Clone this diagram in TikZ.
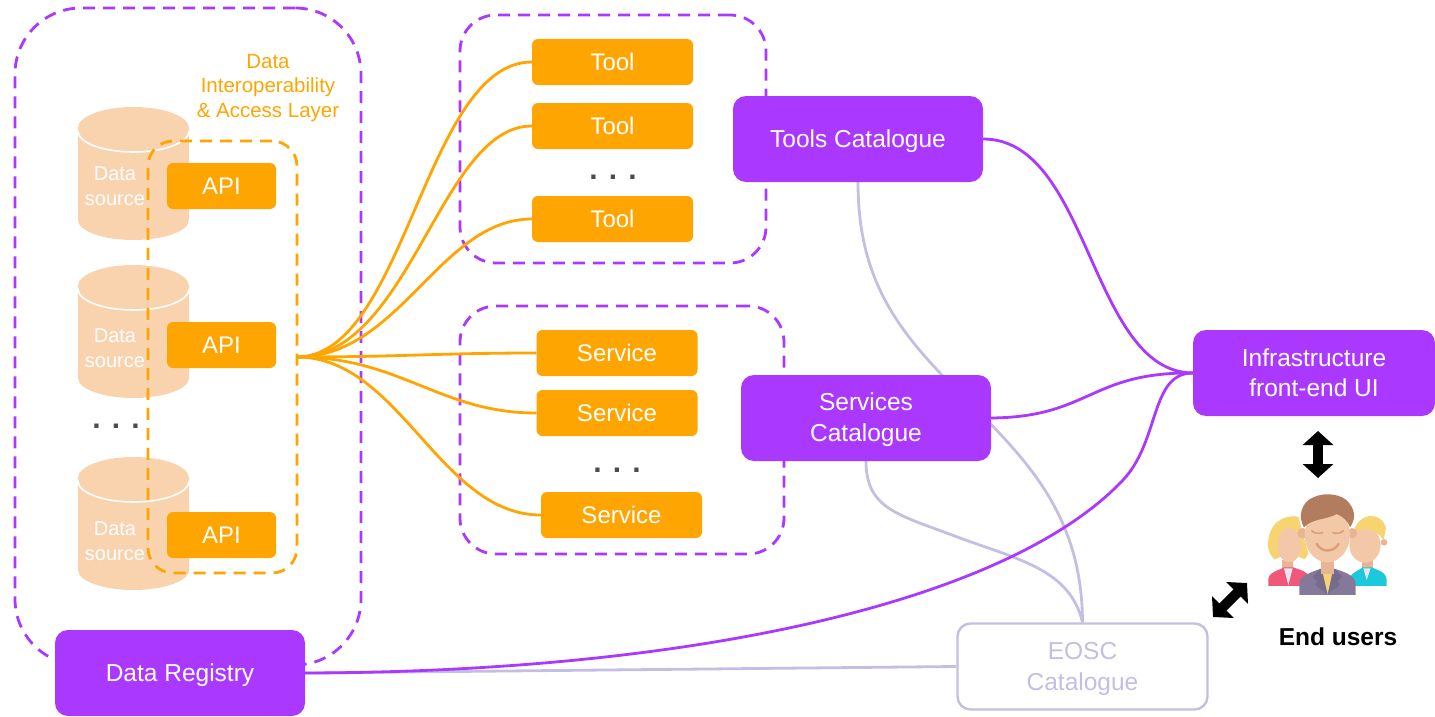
\documentclass[tikz,border=0pt]{standalone}
\usepackage{fontspec}
\setmainfont{Liberation Sans}
\usetikzlibrary{arrows.meta,backgrounds}
\definecolor{orng}{HTML}{FFA502}
\definecolor{prpl}{HTML}{AA38FF}
\definecolor{lilac}{HTML}{C6BEE2}
\definecolor{peach}{HTML}{F9D3AE}
\definecolor{skin}{HTML}{F3C8A8}
\definecolor{skindark}{HTML}{E8B594}
\definecolor{blond}{HTML}{F7D470}
\definecolor{jacketred}{HTML}{F0587A}
\definecolor{jacketblue}{HTML}{1CC8DC}
\definecolor{jacketgray}{HTML}{85799B}
\definecolor{lapelgray}{HTML}{766B8C}
\definecolor{shirt}{HTML}{E8E6F2}
\definecolor{brownhair}{HTML}{B27C5E}
\definecolor{smile}{HTML}{DD9F78}
\tikzset{
  groupbox/.style={draw=prpl,line width=2.8pt,dash pattern=on 12pt off 8pt,rounded corners=36pt,inner sep=0pt},
  orangebox/.style={fill=orng,text=white,rounded corners=6pt,inner sep=0pt,minimum height=46pt,font=\fontsize{24}{30}\selectfont},
  purplebox/.style={fill=prpl,text=white,rounded corners=13pt,inner sep=0pt,minimum width=250pt,minimum height=86pt,align=center,font=\fontsize{24.5}{30.5}\selectfont},
  fanline/.style={draw=orng,line width=2.8pt},
  uiline/.style={draw=prpl,line width=2.8pt},
  eoscline/.style={draw=lilac,line width=2.8pt},
  bothways/.style={{Triangle[width=30pt,length=14pt]}-{Triangle[width=30pt,length=14pt]},line width=10pt,black},
  dotsrow/.style={text=black!70,font=\fontsize{30}{30}\bfseries\selectfont,inner sep=0pt},
  cyltext/.style={text=white,align=center,inner sep=0pt,font=\fontsize{20}{25}\selectfont}
}
\newcommand{\lowerline}{\rule{0pt}{22pt}}
\begin{document}
\begin{tikzpicture}[x=1pt,y=-1pt]
  \useasboundingbox (0,0) rectangle (1435,717);
  % data sources
  \foreach \ytop/\ytxt/\n in {107/186/a,265/348/b,457/541/c}{
    \fill[peach] (78,\ytop+21) arc[x radius=55.5,y radius=21,start angle=180,end angle=360]
      -- (189,\ytop+113) arc[x radius=55.5,y radius=20,start angle=0,end angle=180] -- cycle;
    \draw[white,line width=1.6pt] (78,\ytop+24) arc[x radius=55.5,y radius=21,start angle=180,end angle=0];
    \node[cyltext] (src\n) at (115,\ytxt) {Data\\source};
  }
  \node[dotsrow] (srcdots) at (116,426) {. . .};
  % groups
  \node[groupbox,rounded corners=66pt,minimum width=346pt,minimum height=657pt] (datagroup) at (188,336.5) {};
  \node[groupbox,minimum width=306pt,minimum height=248pt] (toolgroup) at (613,139) {};
  \node[groupbox,minimum width=324pt,minimum height=248pt] (servgroup) at (622,430) {};
  \node[groupbox,draw=orng,rounded corners=25pt,minimum width=149pt,minimum height=432pt] (apigroup) at (222.5,357) {};
  \node[align=center,text=orng,inner sep=0pt,font=\fontsize{20.5}{24.5}\selectfont] (layerlabel) at (268,88)
    {Data\\Interoperability\\\& Access Layer};
  % orange boxes
  \node[orangebox,minimum width=109pt] (apia) at (221.5,186) {API};
  \node[orangebox,minimum width=109pt] (apib) at (221.5,345) {API};
  \node[orangebox,minimum width=109pt] (apic) at (221.5,535) {API};
  \node[orangebox,minimum width=161pt] (toola) at (612.5,62) {Tool};
  \node[orangebox,minimum width=161pt] (toolb) at (612.5,126) {Tool};
  \node[orangebox,minimum width=161pt] (toolc) at (612.5,219) {Tool};
  \node[dotsrow] (tooldots) at (613,177) {. . .};
  \node[orangebox,minimum width=161pt] (serva) at (617,353) {Service};
  \node[orangebox,minimum width=161pt] (servb) at (617,413) {Service};
  \node[orangebox,minimum width=161pt] (servc) at (621.5,515) {Service};
  \node[dotsrow] (servdots) at (617,470) {. . .};
  % purple boxes
  \node[purplebox] (toolcat) at (858,139) {\lowerline Tools Catalogue};
  \node[purplebox,font=\fontsize{24.5}{31}\selectfont] (servcat) at (866,418) {\lowerline Services\\Catalogue};
  \node[purplebox] (registry) at (180,673) {\lowerline Data Registry};
  \node[purplebox,minimum width=242pt] (frontend) at (1314,373) {Infrastructure\\front-end UI};
  \node[purplebox,fill=white,draw=lilac,line width=2.4pt,text=lilac] (eosc) at (1082.5,666.5) {\lowerline EOSC\\Catalogue};
  % fan out of the layer
  \coordinate (hub) at (297,357);
  \draw[fanline] (hub) .. controls (405,357) and (425,62) .. (toola.west);
  \draw[fanline] (hub) .. controls (410,357) and (440,126) .. (toolb.west);
  \draw[fanline] (hub) .. controls (400,357) and (440,219) .. (toolc.west);
  \draw[fanline] (hub) .. controls (400,357) and (440,353) .. (serva.west);
  \draw[fanline] (hub) .. controls (400,357) and (440,413) .. (servb.west);
  \draw[fanline] (hub) .. controls (400,357) and (440,515) .. (servc.west);
  % links to the front end
  \draw[uiline] (toolcat.east) .. controls (1090,139) and (1090,372) .. (frontend.west);
  \draw[uiline] (servcat.east) .. controls (1090,417) and (1090,372) .. (frontend.west);
  \draw[uiline] (registry.east) .. controls (700,672) and (1010,600) .. (1123,480)
    .. controls (1160,441) and (1150,373) .. (frontend.west);
  \begin{scope}[on background layer]
    \draw[eoscline] (toolcat.south) .. controls (858,270) and (890,320) .. (940,373)
      .. controls (1010,445) and (1082,500) .. (eosc.north);
    \draw[eoscline] (servcat.south) .. controls (866,510) and (900,515) .. (960,538)
      .. controls (1020,560) and (1070,570) .. (eosc.north);
    \draw[eoscline] (registry.east) -- (eosc.west);
  \end{scope}
  % end users
  \coordinate (upa) at (1318,431);
  \coordinate (upb) at (1318,478);
  \coordinate (diaga) at (1213,617);
  \coordinate (diagb) at (1247,583);
  \draw[bothways] (upa) -- (upb);
  \draw[bothways] (diaga) -- (diagb);
  \node[inner sep=0pt,font=\fontsize{24.5}{28}\bfseries\selectfont] (users) at (1338,637) {End users};
  \begin{scope}[shift={(1180,420)},x=.3333pt,y=-.3333pt]
    % left woman
    \fill[blond] (264,375) .. controls (264,310) and (310,282) .. (355,290) -- (385,400) -- (375,418) -- (330,400) -- (283,418) .. controls (270,405) and (264,390) .. (264,375) -- cycle;
    \fill[skindark] (305,420) rectangle (340,450);
    \fill[jacketred] (265,498) -- (265,480) .. controls (265,455) and (300,450) .. (312,442) -- (340,442) .. controls (360,450) and (385,455) .. (385,470) -- (385,498) -- cycle;
    \fill[shirt] (312,445) -- (338,445) -- (325,495) -- cycle;
    \fill[skin] (328,375) ellipse[x radius=36,y radius=52];
    % right man
    \fill[skindark] (612,367) circle[radius=10];
    \fill[skindark] (545,420) rectangle (578,450);
    \fill[jacketblue] (505,498) -- (510,470) .. controls (520,455) and (540,450) .. (548,442) -- (575,442) .. controls (590,450) and (620,455) .. (620,480) -- (620,498) -- cycle;
    \fill[shirt] (550,445) -- (572,445) -- (560,480) -- cycle;
    \fill[skin] (555,375) ellipse[x radius=47,y radius=53];
    \fill[blond] (518,340) .. controls (535,275) and (605,272) .. (618,325) -- (610,362) .. controls (600,340) and (575,325) .. (545,328) .. controls (530,330) and (522,335) .. (518,340) -- cycle;
    % middle man
    \fill[jacketgray] (358,525) -- (358,490) .. controls (360,465) and (400,455) .. (425,445) -- (460,445) .. controls (490,455) and (525,465) .. (527,490) -- (527,525) -- cycle;
    \fill[lapelgray] (425,445) -- (398,470) -- (412,485) -- (405,495) -- (442,522) -- cycle;
    \fill[lapelgray] (460,445) -- (487,470) -- (473,485) -- (480,495) -- (442,522) -- cycle;
    \fill[blond] (425,445) -- (460,445) -- (443,522) -- cycle;
    \fill[skindark] (422,415) rectangle (462,462);
    \fill[skindark] (368,340) circle[radius=16];
    \fill[skindark] (516,340) circle[radius=16];
    \fill[skin] (442,345) ellipse[x radius=68,y radius=82];
    \fill[brownhair] (372,322) .. controls (352,290) and (365,245) .. (400,232) .. controls (435,215) and (490,222) .. (508,250) .. controls (528,275) and (525,300) .. (510,322) .. controls (505,305) and (490,290) .. (470,282) .. controls (440,300) and (395,295) .. (372,322) -- cycle;
    \draw[smile,line width=2.4pt,line cap=round] (410,372) .. controls (425,398) and (460,398) .. (476,372);
    \draw[smile,line width=1.6pt,line cap=round] (395,332) .. controls (402,340) and (415,342) .. (428,338) (458,338) .. controls (470,342) and (483,340) .. (490,332);
  \end{scope}
\end{tikzpicture}
\end{document}
